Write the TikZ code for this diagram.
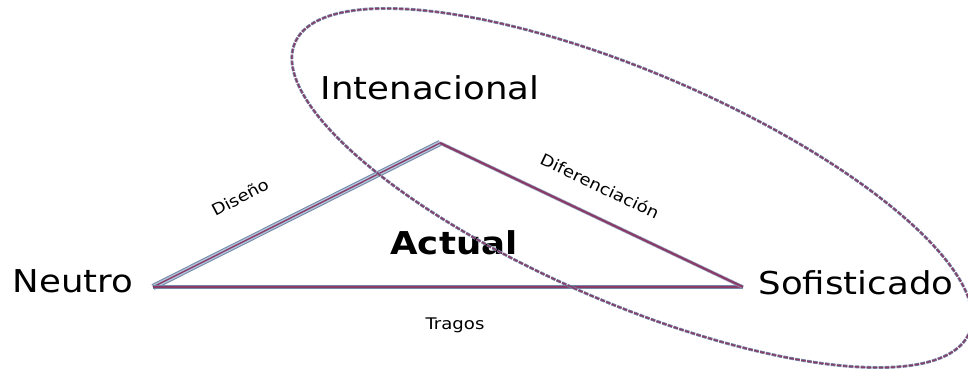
\documentclass[tikz,border=0pt]{standalone}
\usepackage{fontspec}
\setmainfont{DejaVu Sans}[FakeStretch=1.13]
\usepackage{tikz}
\usetikzlibrary{calc}
\definecolor{morado}{HTML}{8B3A68}
\definecolor{azulgris}{HTML}{7388A6}
\definecolor{celeste}{HTML}{AFC3D9}

\begin{document}
\begin{tikzpicture}[x=0.75pt,y=0.75pt,
    grande/.style={font=\fontsize{23.6}{28}\selectfont,inner sep=0pt},
    chica/.style={font=\fontsize{12}{14}\selectfont,inner sep=0pt}]
    
    % Marco del dibujo
    \useasboundingbox (0,0) rectangle (968,-373);
    
    % Vertices del triangulo
    \coordinate (neutro) at (153,-287);
    \coordinate (cima) at (440,-143);
    \coordinate (sofis) at (743,-287);
    
    % Lado izquierdo (Diseño), linea doble gruesa
    \draw[azulgris,line width=4.6pt] (neutro)--(cima);
    \draw[celeste,line width=3.1pt] (neutro)--(cima);
    \draw[morado,line width=1pt] (neutro)--(cima);
    
    % Lado de abajo (Tragos)
    \draw[azulgris,line width=3.2pt] (neutro)--(sofis);
    \draw[morado,line width=1.4pt] (neutro)--(sofis);
    
    % Lado derecho (Diferenciacion)
    \draw[celeste!60!azulgris,line width=2.6pt] (cima)--(sofis);
    \draw[morado,line width=1.6pt] (cima)--(sofis);
    
    % Textos grandes
    \node[grande,anchor=base] (lneutro) at (73,-293) {Neutro};
    \node[grande,anchor=base] (linter) at (430,-100) {Intenacional};
    \node[grande,anchor=base] (lsofis) at (856,-295) {Sofisticado};
    \node[grande,anchor=base,font=\fontsize{23.6}{28}\selectfont\bfseries] (lactual) at (454,-255) {Actual};
    
    % Textos chicos sobre los lados
    \node[chica,anchor=base] (ltragos) at (455,-330) {Tragos};
    \node[chica,rotate=28] (ldiseno) at (240,-197) {Diseño};
    \node[chica,rotate=-25.5] (ldifer) at (600,-186) {Diferenciación};
    
    % Elipse punteada inclinada
    \draw[azulgris,line width=2.2pt,dash pattern=on 3.5pt off 1pt,rotate around={-23.3:(632,-188)}] (632,-188) ellipse [x radius=367,y radius=115];
    \draw[morado,line width=1pt,dash pattern=on 3.5pt off 1pt,rotate around={-23.3:(632,-188)}] (632,-188) ellipse [x radius=367,y radius=115];
    
\end{tikzpicture}
\end{document}
